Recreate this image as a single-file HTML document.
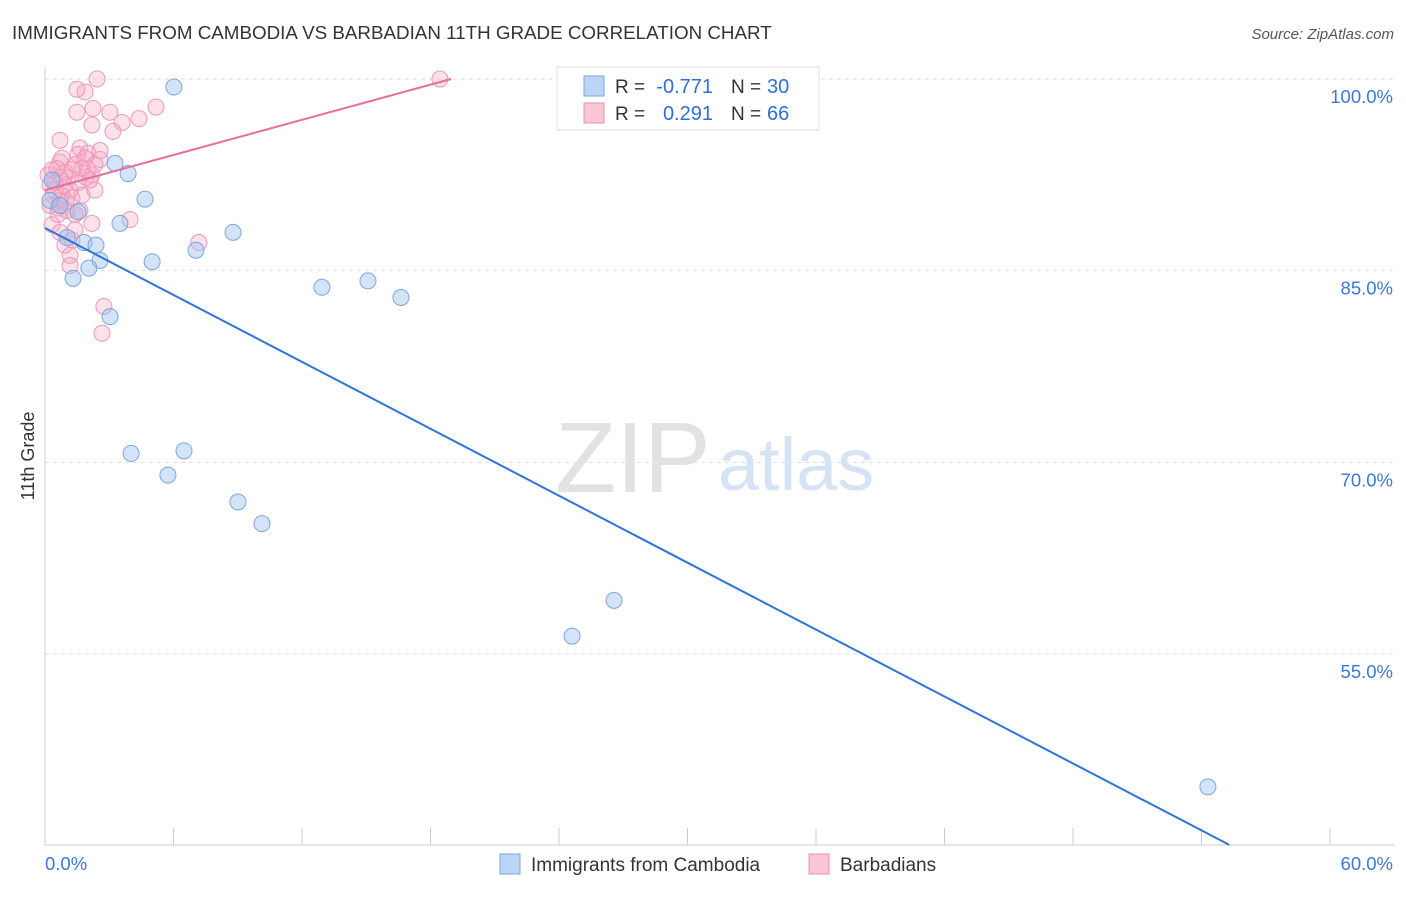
<!DOCTYPE html>
<html><head><meta charset="utf-8"><style>
body{margin:0;background:#fff;font-family:"Liberation Sans",sans-serif;}
svg text{font-family:"Liberation Sans",sans-serif;}
</style></head><body>
<svg id="chart" width="1406" height="892" viewBox="0 0 1406 892" xmlns="http://www.w3.org/2000/svg">
<text x="12" y="39" font-size="18.8" fill="#333">IMMIGRANTS FROM CAMBODIA VS BARBADIAN 11TH GRADE CORRELATION CHART</text>
<text x="1394" y="39" font-size="15" fill="#555" text-anchor="end" font-style="italic">Source: ZipAtlas.com</text>
<g id="grid"></g>
<g><text x="555" y="492" font-size="100" fill="#e2e2e2" font-family="Liberation Serif">ZIP</text><text x="718" y="490" font-size="74" fill="#d5e3f5">atlas</text></g>
<text transform="translate(34,456) rotate(-90)" font-size="18" fill="#333" text-anchor="middle">11th Grade</text>
<g id="marks"></g>
<g>
<rect x="557" y="67" width="262" height="63" fill="#fff" stroke="#ddd"/>
<rect x="584" y="76" width="20" height="20" fill="#bcd5f5" stroke="#7aa6e0"/>
<text x="615" y="93" font-size="19" fill="#333">R =</text>
<text x="713" y="93" font-size="20" fill="#2f6fd6" text-anchor="end">-0.771</text>
<text x="731" y="93" font-size="19" fill="#333">N =</text>
<text x="767" y="93" font-size="20" fill="#2f6fd6">30</text>
<rect x="584" y="103" width="20" height="20" fill="#f9c6d6" stroke="#e890b0"/>
<text x="615" y="120" font-size="19" fill="#333">R =</text>
<text x="713" y="120" font-size="20" fill="#2f6fd6" text-anchor="end">0.291</text>
<text x="731" y="120" font-size="19" fill="#333">N =</text>
<text x="767" y="120" font-size="20" fill="#2f6fd6">66</text>
</g>
<g>
<rect x="500" y="854" width="20" height="20" fill="#bcd5f5" stroke="#7aa6e0"/>
<text x="531" y="871" font-size="19" fill="#333">Immigrants from Cambodia</text>
<rect x="809" y="854" width="20" height="20" fill="#f9c6d6" stroke="#e890b0"/>
<text x="840" y="871" font-size="19" fill="#333">Barbadians</text>
</g>
</svg>
<script>
const xTicks=[0,6,12,18,24,30,36,42,48,54,60];
const yTicks=[55,70,85,100];
const yTickLabels=["55.0%","70.0%","85.0%","100.0%"];
const xTickLabels=["0.0%","60.0%"];
const blueX=[6.02,3.27,3.88,4.67,1.54,3.5,8.78,1.03,1.82,2.38,7.05,5.0,2.57,2.05,1.31,12.93,15.08,16.62,3.04,4.02,6.49,5.74,9.01,10.13,26.57,24.61,54.3,0.33,0.23,0.7];
const blueY=[99.37,93.4,92.6,90.6,89.6,88.7,88.0,87.6,87.2,87.0,86.6,85.7,85.8,85.2,84.4,83.7,84.2,82.9,81.4,70.7,70.9,69.0,66.9,65.2,59.2,56.4,44.6,92.1,90.5,90.1];
const pinkX=[2.43,1.87,1.49,2.24,3.03,5.18,1.49,3.6,4.39,2.19,3.17,0.7,1.63,1.54,2.01,2.57,0.7,1.4,2.19,1.91,0.33,0.7,0.93,1.17,0.47,2.33,0.79,1.26,0.23,0.61,0.98,1.63,1.4,2.19,3.97,0.33,0.7,1.26,0.93,1.17,1.17,7.19,2.75,2.66,18.44,0.14,0.47,1.07,1.73,2.1,0.7,0.37,1.54,0.79,1.87,1.26,0.61,2.01,0.93,2.57,1.4,0.23,0.56,1.03,1.73,2.33];
const pinkY=[100.0,98.98,99.2,97.7,97.4,97.8,97.4,96.6,96.9,96.4,95.9,95.2,94.6,94.1,94.2,93.7,93.5,93.3,92.5,92.3,92.9,92.3,91.7,91.3,91.3,91.3,90.9,90.7,90.1,89.9,90.4,89.7,89.4,88.7,89.0,88.6,88.0,87.4,87.0,86.2,85.4,87.2,82.2,80.1,100.0,92.5,91.9,92.3,93.0,92.1,90.5,90.9,91.9,93.8,93.8,92.9,89.4,92.9,92.7,94.4,88.2,91.7,93.0,89.7,90.9,93.3];
const blueLine=[[0,88.34],[55.3,40.06]];
const pinkLine=[[0,91.3],[18.96,100]];
const NS="http://www.w3.org/2000/svg";
const X0=45,X1=1330,Y100=79,Y55=654;
function sx(v){return X0+(v-0)/60*(X1-X0);}
function sy(v){return Y100+(100-v)/45*(Y55-Y100);}
function mk(tag,attrs,parent){const e=document.createElementNS(NS,tag);for(const k in attrs)e.setAttribute(k,attrs[k]);parent.appendChild(e);return e;}
const grid=document.getElementById('grid'),marks=document.getElementById('marks');
yTicks.forEach((t,i)=>{
 const l=mk('line',{x1:X0,x2:1394,y1:sy(t),y2:sy(t),stroke:'#ddd','stroke-dasharray':'4,4'},grid);
 
 
 const tx=mk('text',{x:1393,y:sy(t)+24,'font-size':18.5,fill:'#3b78d8','text-anchor':'end'},grid);
 tx.textContent=yTickLabels[i];
 
 
});
const ax=mk('line',{x1:X0,x2:X0,y1:68,y2:845,stroke:'#ccc'},grid);


const bx=mk('line',{x1:X0,x2:1394,y1:845,y2:845,stroke:'#ccc'},grid);


xTicks.forEach(t=>{
 const l=mk('line',{x1:sx(t),x2:sx(t),y1:828,y2:845,stroke:'#ccc'},grid);
 
 
});
const xl0=mk('text',{x:45,y:870,'font-size':18.5,fill:'#3b78d8'},grid);xl0.textContent=xTickLabels[0];


const xl1=mk('text',{x:1393,y:870,'font-size':18.5,fill:'#3b78d8','text-anchor':'end'},grid);xl1.textContent=xTickLabels[1];


pinkX.forEach((v,i)=>{
 const c=mk('circle',{cx:sx(v),cy:sy(pinkY[i]),r:8,fill:'rgba(245,165,195,0.35)',stroke:'#ec9ab8','stroke-width':1},marks);
 
 
});
blueX.forEach((v,i)=>{
 const c=mk('circle',{cx:sx(v),cy:sy(blueY[i]),r:8,fill:'rgba(160,195,240,0.45)',stroke:'#7aa6e0','stroke-width':1},marks);
 
 
});
const bl=mk('line',{x1:sx(blueLine[0][0]),y1:sy(blueLine[0][1]),x2:sx(blueLine[1][0]),y2:sy(blueLine[1][1]),stroke:'#2f74d8','stroke-width':2},marks);


const pl=mk('line',{x1:sx(pinkLine[0][0]),y1:sy(pinkLine[0][1]),x2:sx(pinkLine[1][0]),y2:sy(pinkLine[1][1]),stroke:'#e8709a','stroke-width':2},marks);


</script>
</body></html>
